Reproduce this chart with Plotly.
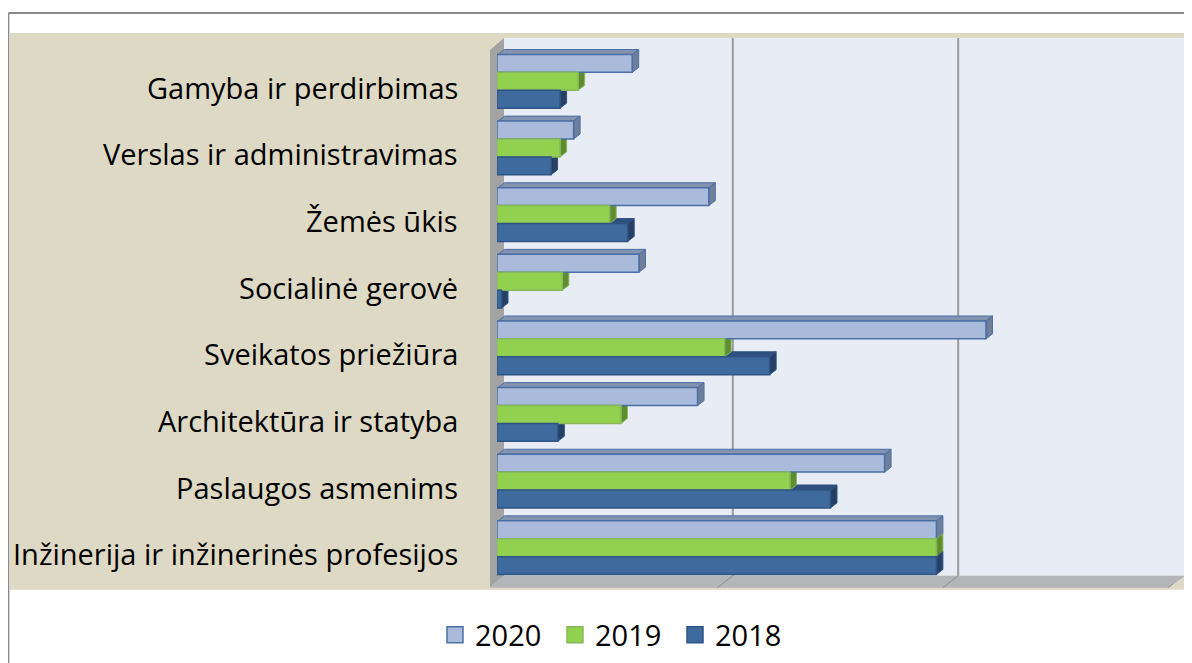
import plotly.graph_objects as go

categories = [
    "Gamyba ir perdirbimas",
    "Verslas ir administravimas",
    "Žemės ūkis",
    "Socialinė gerovė",
    "Sveikatos priežiūra",
    "Architektūra ir statyba",
    "Paslaugos asmenims",
    "Inžinerija ir inžinerinės profesijos",
]
series_names = ["2020", "2019", "2018"]
values_2020 = [6.0, 3.4, 9.4, 6.3, 21.7, 8.9, 17.2, 19.5]
values_2019 = [3.6, 2.8, 5.0, 2.9, 10.1, 5.5, 13.0, 19.5]
values_2018 = [2.8, 2.4, 5.8, 0.2, 12.1, 2.7, 14.8, 19.5]
series_values = [values_2020, values_2019, values_2018]

fill_colors = ["#AABADA", "#92D050", "#3E6A9E"]
line_colors = ["#4A6FA5", "#86B85A", "#2E5585"]
side_colors = ["#6F7F99", "#5E8C2E", "#263F63"]
top_colors = ["#8494B0", "#7DB347", "#2E5080"]

# layout geometry (pixels). The page body has an 8px margin.
OFF = 8
FW, FH = 1184, 655
L, T = 489, 40
W = 676.5
H = 533.35
R = FW - L - W
B = FH - T - H
XMAX = 30
px_per_unit = W / XMAX
cat_px = H / len(categories)
bargap = 0.195
bw = (1 - bargap) / 3
LABEL_FONT = 29


def fx(s):
    return (s - OFF - L) / W


def fy(s):
    return 1 - (s - OFF - T) / H


fig = go.Figure()
for i, name in enumerate(series_names):
    fig.add_trace(go.Bar(
        y=categories, x=series_values[i], name=name, orientation="h", showlegend=False,
        marker=dict(color=fill_colors[i], line=dict(color=line_colors[i], width=1.5)),
    ))
# legend entries
for i, name in enumerate(series_names):
    fig.add_trace(go.Scatter(
        x=[None], y=[None], mode="markers", name=name, showlegend=True,
        marker=dict(symbol="square", size=16, color=fill_colors[i],
                    line=dict(color=line_colors[i], width=1.5)),
    ))

shapes = []
# chart outer border
shapes.append(dict(type="line", xref="paper", yref="paper", x0=fx(8), x1=fx(1200), y0=fy(13), y1=fy(13),
                   line=dict(color="#8A8A8A", width=2), layer="below"))
shapes.append(dict(type="line", xref="paper", yref="paper", x0=fx(8), x1=fx(8), y0=fy(13), y1=fy(670),
                   line=dict(color="#8A8A8A", width=2), layer="below"))
# beige band
shapes.append(dict(type="rect", xref="paper", yref="paper", x0=fx(9), x1=fx(1200), y0=fy(33), y1=fy(590),
                   fillcolor="#DDD9C4", line=dict(width=0), layer="below"))
# back wall
shapes.append(dict(type="rect", xref="paper", yref="paper", x0=fx(504), x1=fx(1186), y0=fy(38), y1=fy(576),
                   fillcolor="#E8ECF5", line=dict(width=0), layer="below"))
# side wall
shapes.append(dict(type="path", xref="paper", yref="paper",
                   path=f"M{fx(490)},{fy(588)} L{fx(490)},{fy(50)} L{fx(504)},{fy(38)} L{fx(504)},{fy(576)} Z",
                   fillcolor="#A3A3A3", line=dict(width=0), layer="below"))
# floor
shapes.append(dict(type="path", xref="paper", yref="paper",
                   path=f"M{fx(490)},{fy(588)} L{fx(1169)},{fy(588)} L{fx(1186)},{fy(576)} L{fx(504)},{fy(576)} Z",
                   fillcolor="#B3B5B9", line=dict(width=0), layer="below"))
# back-wall gridlines and floor ticks anchored to axis values
for g in [10, 20, 30]:
    shapes.append(dict(type="line", xref="x", yref="paper", xsizemode="pixel", xanchor=g,
                       x0=10.5, x1=10.5, y0=fy(38), y1=fy(576),
                       line=dict(color="#9A9A9A", width=2), layer="below"))
    shapes.append(dict(type="line", xref="x", yref="paper", xsizemode="pixel", xanchor=g,
                       x0=-5, x1=10.5, y0=fy(588), y1=fy(576),
                       line=dict(color="#8C8C8C", width=1), layer="below"))

# 3D faces of bars (in data units)
dx = 6.5 / px_per_unit
dy = 5 / cat_px
top_faces, side_faces = [], []
for i in range(3):
    for j, v in enumerate(series_values[i]):
        yc = j + (i - 1) * bw
        ytop = yc - bw / 2
        ybot = yc + bw / 2
        top_faces.append(dict(type="path", xref="x", yref="y",
                              path=f"M0.05,{ytop} L{v},{ytop} L{v + dx},{ytop - dy} L{dx + 0.05},{ytop - dy} Z",
                              fillcolor=top_colors[i], line=dict(color=line_colors[i], width=1), layer="below"))
        side_faces.append(dict(type="path", xref="x", yref="y",
                               path=f"M{v},{ybot} L{v},{ytop} L{v + dx},{ytop - dy} L{v + dx},{ybot - dy} Z",
                               fillcolor=side_colors[i], line=dict(color=line_colors[i], width=1), layer="below"))
shapes += top_faces + side_faces

# category labels (placed at each category, slightly below centre as in the original)
annotations = [
    dict(text=c, xref="paper", x=0, xshift=-37, xanchor="right", yref="y", y=c, yshift=-6,
         yanchor="middle", showarrow=False, font=dict(size=LABEL_FONT, color="#000000"))
    for c in categories
]

fig.update_layout(
    width=FW, height=FH,
    margin=dict(l=L, r=R, t=T, b=B, pad=0),
    paper_bgcolor="white", plot_bgcolor="rgba(0,0,0,0)",
    barmode="group", bargap=bargap, bargroupgap=0,
    shapes=shapes, annotations=annotations,
    font=dict(family="'Open Sans', 'Noto Sans', sans-serif", color="#000000"),
    xaxis=dict(range=[0, XMAX], showgrid=False, zeroline=False, showticklabels=False, showline=False),
    yaxis=dict(type="category", categoryorder="array", categoryarray=categories,
               range=[len(categories) - 0.5, -0.5], showgrid=False, zeroline=False, showline=False,
               ticks="", showticklabels=False),
    legend=dict(orientation="h", xref="container", yref="container", x=(435 - OFF) / FW,
                y=1 - (635 - OFF) / FH, xanchor="left", yanchor="middle",
                font=dict(size=LABEL_FONT), traceorder="normal", entrywidth=75, itemwidth=30,
                bgcolor="rgba(0,0,0,0)"),
    showlegend=True,
)

fig.write_html("out.html")
